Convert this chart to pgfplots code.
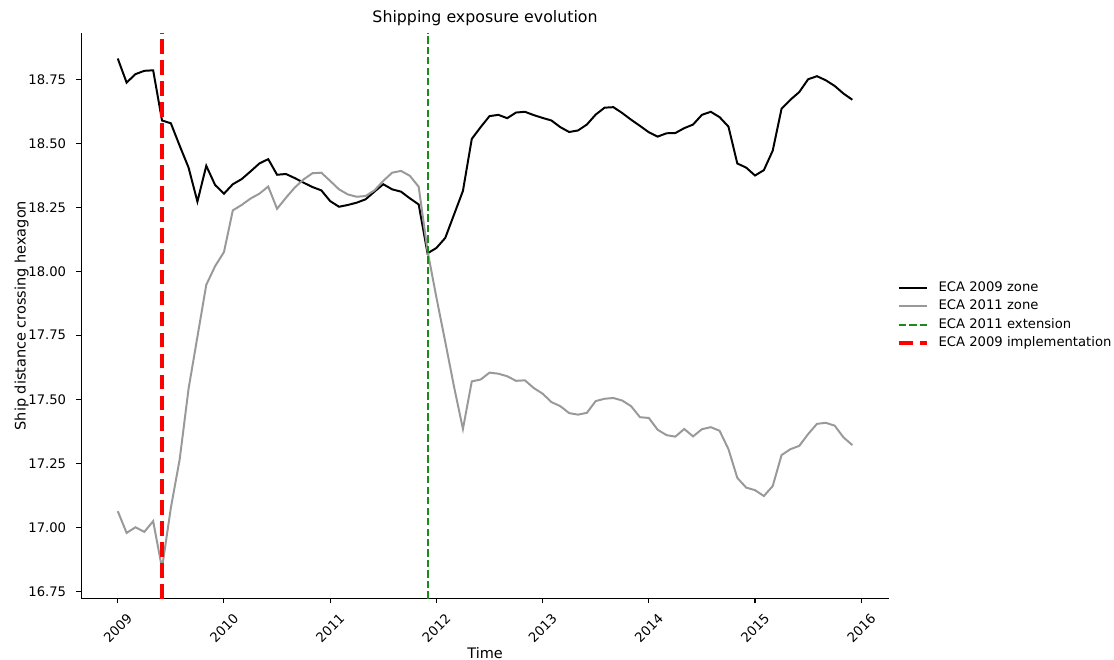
\documentclass[border=0pt]{standalone}
\usepackage{fontspec}
\setmainfont{DejaVu Sans}
\usepackage{pgfplots}
\usepackage{pgfplotstable}
\pgfplotsset{compat=1.18}

% Monthly mean ship distance crossing a hexagon, months counted from January 2009
\pgfplotstableread{
m  eca2009 eca2011
0  18.831 17.063
1  18.737 16.978
2  18.770 17.000
3  18.783 16.982
4  18.785 17.024
5  18.589 16.840
6  18.578 17.076
7  18.490 17.266
8  18.405 17.541
9  18.272 17.744
10 18.412 17.947
11 18.337 18.020
12 18.303 18.075
13 18.340 18.238
14 18.360 18.259
15 18.390 18.284
16 18.421 18.303
17 18.438 18.331
18 18.377 18.244
19 18.380 18.287
20 18.364 18.327
21 18.346 18.359
22 18.329 18.383
23 18.316 18.385
24 18.274 18.353
25 18.252 18.320
26 18.259 18.300
27 18.268 18.291
28 18.281 18.294
29 18.311 18.316
30 18.340 18.353
31 18.320 18.385
32 18.311 18.392
33 18.285 18.373
34 18.261 18.330
35 18.070 18.080
36 18.091 17.898
37 18.130 17.725
38 18.222 17.548
39 18.314 17.384
40 18.517 17.570
41 18.563 17.577
42 18.606 17.604
43 18.611 17.600
44 18.598 17.590
45 18.620 17.572
46 18.623 17.574
47 18.610 17.544
48 18.599 17.522
49 18.589 17.489
50 18.563 17.473
51 18.544 17.446
52 18.550 17.440
53 18.573 17.447
54 18.612 17.493
55 18.639 17.502
56 18.641 17.505
57 18.618 17.495
58 18.592 17.473
59 18.568 17.430
60 18.543 17.427
61 18.526 17.381
62 18.539 17.360
63 18.540 17.354
64 18.559 17.384
65 18.573 17.355
66 18.611 17.383
67 18.623 17.391
68 18.602 17.377
69 18.565 17.305
70 18.421 17.193
71 18.405 17.155
72 18.374 17.145
73 18.395 17.122
74 18.471 17.161
75 18.635 17.282
76 18.670 17.305
77 18.700 17.318
78 18.750 17.364
79 18.762 17.404
80 18.746 17.408
81 18.724 17.397
82 18.694 17.351
83 18.670 17.321
}\exposure

\definecolor{zonegrey}{HTML}{999999}
\definecolor{extgreen}{HTML}{1A8A1A}

% legend handle: a 21.5pt stroke followed by some empty room before the text
\pgfplotsset{
  legend image code/.code={\draw[#1] (0pt,0pt) -- (21.5pt,0pt); \path (26.8pt,0pt);},
}

\begin{document}
\begin{tikzpicture}
\path[use as bounding box] (0,0) rectangle (845.5pt,500.9pt);
\begin{axis}[
  at={(61.5pt,46.5pt)}, anchor=south west,
  scale only axis, width=613.3pt, height=429.6pt,
  xmin=-4.15, xmax=87.15, ymin=16.721, ymax=18.932,
  axis lines=left, axis line style={-, line width=0.8pt, black},
  tick align=outside, major tick length=3.5pt,
  tick style={black, line width=0.8pt},
  minor tick num=0,
  xtick={0,12,24,36,48,60,72,84},
  xticklabels={2009,2010,2011,2012,2013,2014,2015,2016},
  ytick={16.75,17.00,17.25,17.50,17.75,18.00,18.25,18.50,18.75},
  /pgf/number format/assume math mode=true,
  yticklabel style={/pgf/number format/fixed, /pgf/number format/fixed zerofill,
    /pgf/number format/precision=2, font=\fontsize{10}{12}\selectfont, xshift=-4.3pt},
  xticklabel style={yshift=-19pt, rotate=45, anchor=center, font=\fontsize{10}{12}\selectfont},
  xlabel={Time},
  ylabel={Ship distance crossing hexagon},
  xlabel style={at={(axis description cs:0.5,-0.0959)}, anchor=center, font=\fontsize{11}{13}\selectfont},
  ylabel style={at={(axis description cs:-0.0734,0.5)}, anchor=center, font=\fontsize{11}{13}\selectfont},
  title={Shipping exposure evolution},
  title style={at={(axis description cs:0.5,1.011)}, anchor=center, font=\fontsize{12}{14}\selectfont},
  legend style={at={(axis description cs:1,0.5)}, anchor=west, xshift=5.6pt,
    draw=none, fill=none, inner sep=0pt, row sep=0pt,
    font=\fontsize{10}{12}\selectfont,
    nodes={text height=7.5pt, text depth=2.5pt, inner sep=2pt}},
  legend cell align=left,
  /tikz/every even column/.append style={column sep=3.6pt},
]
\addplot[black, line width=1.5pt] table[x=m, y=eca2009] {\exposure};
\addlegendentry{ECA 2009 zone}
\addplot[zonegrey, line width=1.5pt] table[x=m, y=eca2011] {\exposure};
\addlegendentry{ECA 2011 zone}
\addplot[extgreen, line width=1.5pt, dash pattern=on 5.55pt off 2.4pt] coordinates {(35,16.721) (35,18.932)};
\addlegendentry{ECA 2011 extension}
\addplot[red, line width=3pt, dash pattern=on 11.1pt off 4.8pt] coordinates {(5,16.721) (5,18.932)};
\addlegendentry{ECA 2009 implementation}
\end{axis}
\end{tikzpicture}
\end{document}
